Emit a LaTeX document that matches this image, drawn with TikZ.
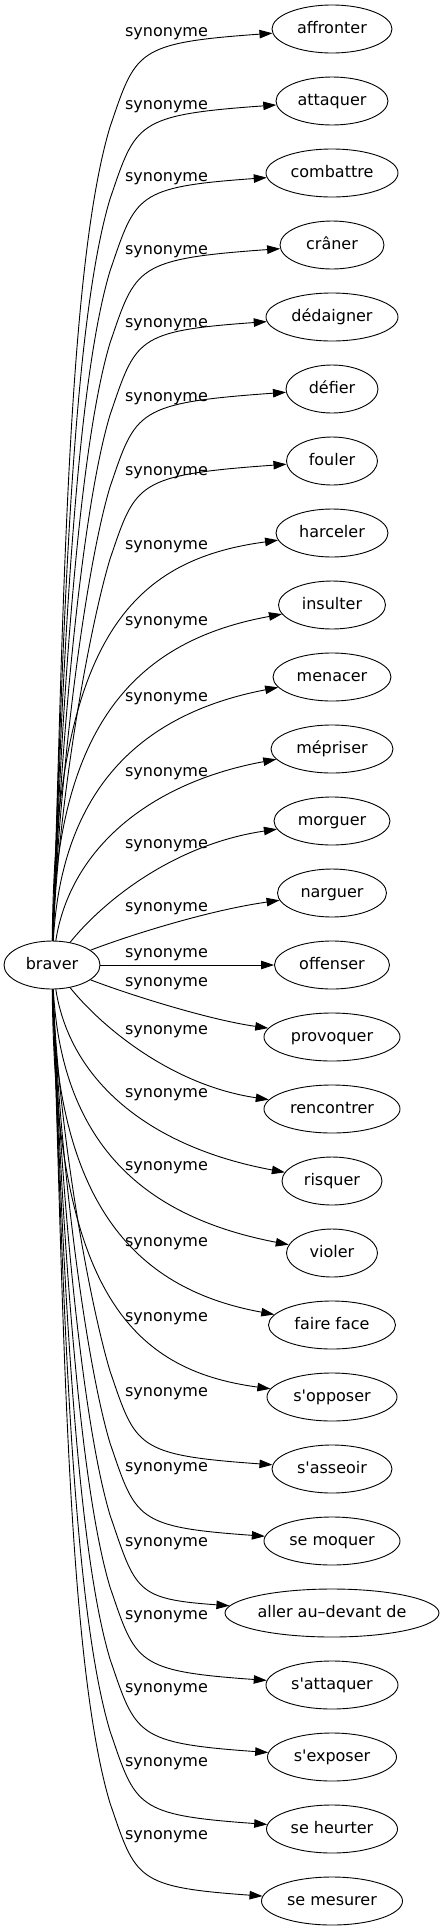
\documentclass[tikz,border=0pt]{standalone}
\usepackage{fontspec}
\setmainfont{DejaVu Sans}[Ligatures=TeXOff]
\usetikzlibrary{shapes.geometric,arrows.meta}
\tikzset{
  word/.style={ellipse, draw, line width=0.9pt, minimum height=48pt, inner sep=0pt, text height=11.5pt, text depth=3.5pt},
  lbl/.style={inner sep=0pt, text height=11.5pt, text depth=3.5pt},
  syn/.style={line width=0.9pt, -{Triangle[length=13pt,width=8.5pt]}},
}
\newcommand{\topedge}[2]{%
  \draw[syn] (braver) .. controls ({54+0.0111*(843-#2)},{941-0.37*(843-#2)}) and ({110-0.054*(843-#2)},{#2+98+0.18*(843-#2)}) .. (110,{#2+98}) .. controls (136,{#2+22}) and (135,{#2+14}) .. (#1);}
\newcommand{\botedge}[2]{%
  \draw[syn] (braver) .. controls ({54+0.0111*(#2-1087)},{989+0.37*(#2-1087)}) and ({110-0.054*(#2-1087)},{#2-98-0.18*(#2-1087)}) .. (110,{#2-98}) .. controls (136,{#2-22}) and (135,{#2-14}) .. (#1);}
\begin{document}
\begin{tikzpicture}[x=1pt,y=-1pt,font=\fontsize{16pt}{19pt}\selectfont]
\useasboundingbox (0,0) rectangle (444,1931);
\node[word, minimum width=96pt] (braver) at (52,965) {braver};
\node[word, minimum width=120pt] (affronter) at (332,29) {affronter};
\node[word, minimum width=112pt] (attaquer) at (332,101) {attaquer};
\node[word, minimum width=132pt] (combattre) at (332,173) {combattre};
\node[word, minimum width=104pt] (craner) at (332,245) {crâner};
\node[word, minimum width=132pt] (dedaigner) at (332,317) {dédaigner};
\node[word, minimum width=92pt] (defier) at (332,389) {défier};
\node[word, minimum width=91pt] (fouler) at (332,461) {fouler};
\node[word, minimum width=112pt] (harceler) at (332,533) {harceler};
\node[word, minimum width=107pt] (insulter) at (332,605) {insulter};
\node[word, minimum width=118pt] (menacer) at (332,677) {menacer};
\node[word, minimum width=122pt] (mepriser) at (332,749) {mépriser};
\node[word, minimum width=116pt] (morguer) at (332,821) {morguer};
\node[word, minimum width=109pt] (narguer) at (332,893) {narguer};
\node[word, minimum width=115pt] (offenser) at (332,965) {offenser};
\node[word, minimum width=136pt] (provoquer) at (332,1037) {provoquer};
\node[word, minimum width=136pt] (rencontrer) at (332,1109) {rencontrer};
\node[word, minimum width=100pt] (risquer) at (332,1181) {risquer};
\node[word, minimum width=91pt] (violer) at (332,1253) {violer};
\node[word, minimum width=127pt] (fairefac) at (332,1325) {faire face};
\node[word, minimum width=130pt] (sopposer) at (332,1397) {s'opposer};
\node[word, minimum width=120pt] (sasseoir) at (332,1469) {s'asseoir};
\node[word, minimum width=136pt] (semoquer) at (332,1541) {se moquer};
\node[word, minimum width=214pt] (aller) at (332,1613) {aller au–devant de};
\node[word, minimum width=132pt] (sattaquer) at (332,1685) {s'attaquer};
\node[word, minimum width=129pt] (sexposer) at (332,1757) {s'exposer};
\node[word, minimum width=131pt] (seheurter) at (332,1829) {se heurter};
\node[word, minimum width=141pt] (semesurer) at (332,1901) {se mesurer};
\node[lbl] (l0) at (166.5,32) {synonyme};
\node[lbl] (l1) at (166.5,105) {synonyme};
\node[lbl] (l2) at (166.5,177) {synonyme};
\node[lbl] (l3) at (166.5,250) {synonyme};
\node[lbl] (l4) at (166.5,323) {synonyme};
\node[lbl] (l5) at (166.5,397) {synonyme};
\node[lbl] (l6) at (166.5,471) {synonyme};
\node[lbl] (l7) at (166.5,545) {synonyme};
\node[lbl] (l8) at (166.5,621) {synonyme};
\node[lbl] (l9) at (166.5,697) {synonyme};
\node[lbl] (l10) at (166.5,772) {synonyme};
\node[lbl] (l11) at (166.5,844) {synonyme};
\node[lbl] (l12) at (166.5,907) {synonyme};
\node[lbl] (l13) at (166.5,953) {synonyme};
\node[lbl] (l14) at (166.5,982) {synonyme};
\node[lbl] (l15) at (166.5,1030) {synonyme};
\node[lbl] (l16) at (166.5,1093) {synonyme};
\node[lbl] (l17) at (166.5,1166) {synonyme};
\node[lbl] (l18) at (166.5,1242) {synonyme};
\node[lbl] (l19) at (166.5,1317) {synonyme};
\node[lbl] (l20) at (166.5,1392) {synonyme};
\node[lbl] (l21) at (166.5,1467) {synonyme};
\node[lbl] (l22) at (166.5,1542) {synonyme};
\node[lbl] (l23) at (166.5,1615) {synonyme};
\node[lbl] (l24) at (166.5,1688) {synonyme};
\node[lbl] (l25) at (166.5,1762) {synonyme};
\node[lbl] (l26) at (166.5,1835) {synonyme};
\topedge{affronter}{29}
\topedge{attaquer}{101}
\topedge{combattre}{173}
\topedge{craner}{245}
\topedge{dedaigner}{317}
\topedge{defier}{389}
\topedge{fouler}{461}
\draw[syn] (braver) .. controls (55,640) and (130,560) .. (harceler);
\draw[syn] (braver) .. controls (56,720) and (140,640) .. (insulter);
\draw[syn] (braver) .. controls (62,780) and (150,712) .. (menacer);
\draw[syn] (braver) .. controls (70,850) and (148,783) .. (mepriser);
\draw[syn] (braver) .. controls (100,905) and (170,845) .. (morguer);
\draw[syn] (braver) .. controls (130,935) and (210,910) .. (narguer);
\draw[syn] (braver) -- (offenser);
\draw[syn] (braver) .. controls (130,995) and (210,1020) .. (provoquer);
\draw[syn] (braver) .. controls (100,1025) and (170,1085) .. (rencontrer);
\draw[syn] (braver) .. controls (70,1080) and (148,1147) .. (risquer);
\draw[syn] (braver) .. controls (62,1150) and (150,1218) .. (violer);
\draw[syn] (braver) .. controls (56,1210) and (140,1290) .. (fairefac);
\draw[syn] (braver) .. controls (55,1290) and (130,1370) .. (sopposer);
\botedge{sasseoir}{1469}
\botedge{semoquer}{1541}
\botedge{aller}{1613}
\botedge{sattaquer}{1685}
\botedge{sexposer}{1757}
\botedge{seheurter}{1829}
\botedge{semesurer}{1901}
\end{tikzpicture}
\end{document}
